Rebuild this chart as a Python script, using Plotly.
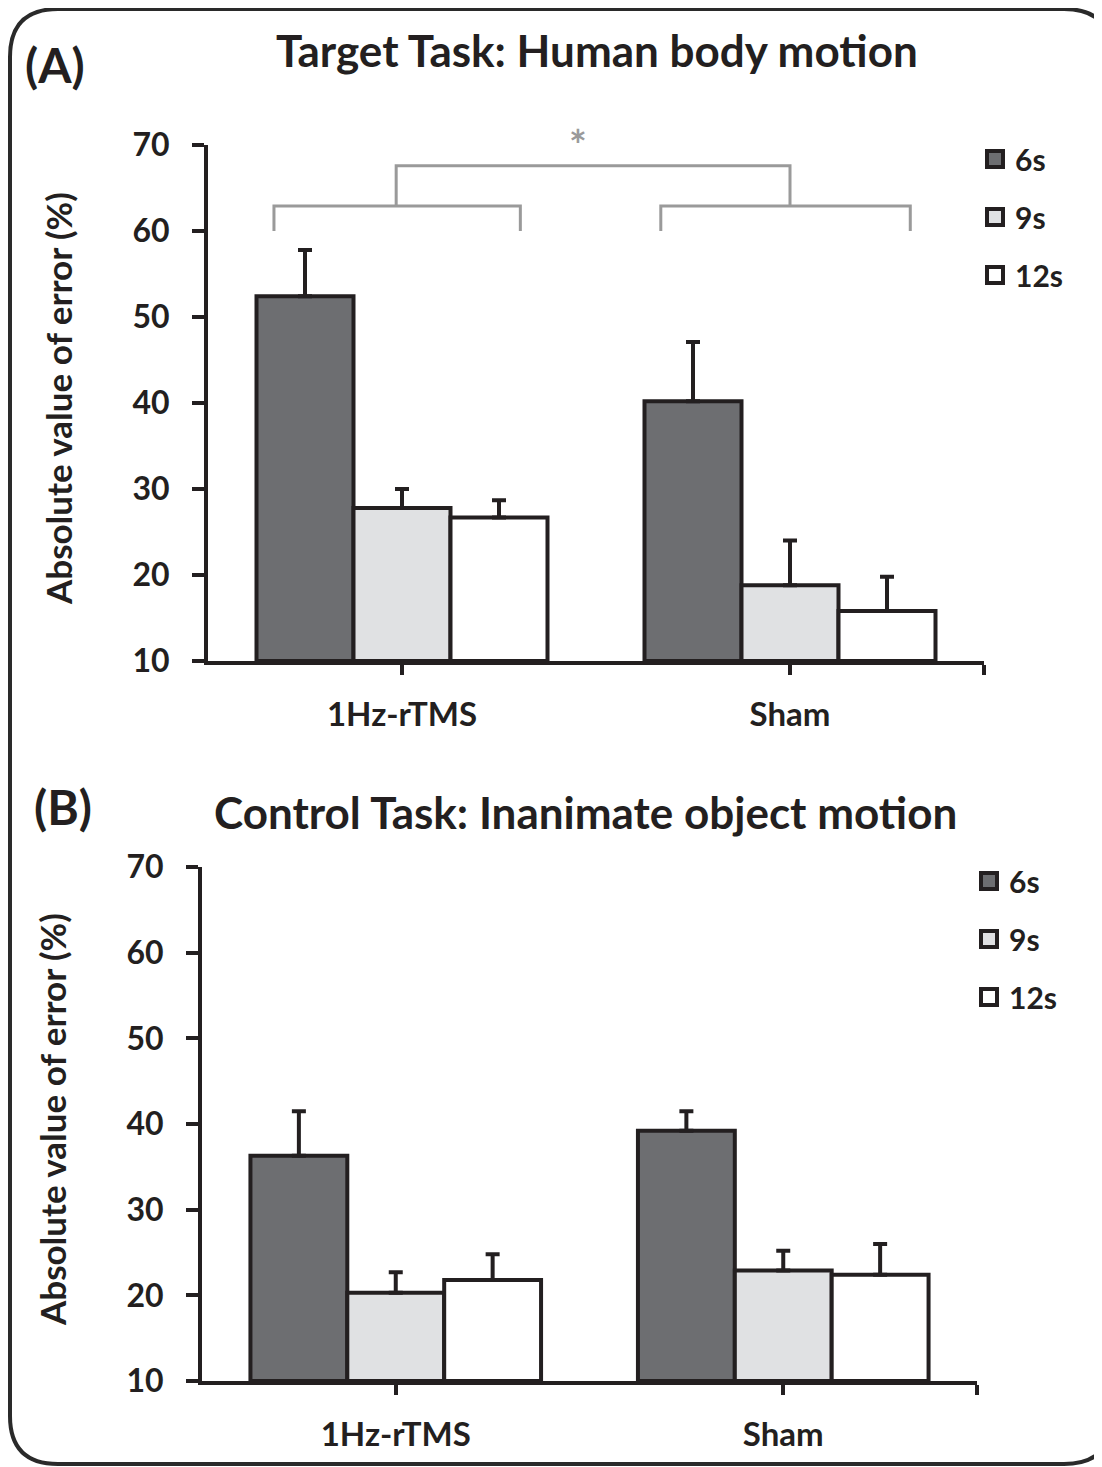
import plotly.graph_objects as go

W, H = 1102, 1467
OFF = 8  # page body margin that shifts the figure in the screenshot

# data
groups = ['1Hz-rTMS', 'Sham']
durations = ['6s', '9s', '12s']
colors = ['#6d6e71', '#e0e1e3', '#ffffff']

target_mean = {'6s': [52.4, 40.2], '9s': [27.8, 18.8], '12s': [26.7, 15.8]}
target_err = {'6s': [5.4, 6.9], '9s': [2.2, 5.2], '12s': [2.0, 4.0]}

control_mean = {'6s': [36.3, 39.2], '9s': [20.3, 22.9], '12s': [21.8, 22.4]}
control_err = {'6s': [5.2, 2.3], '9s': [2.4, 2.3], '12s': [3.0, 3.6]}

INK = '#231f20'
FONT = 'Lato'


def px_x(p):
    return (p - OFF) / W


def px_y(p):
    return 1 - (p - OFF) / H


fig = go.Figure()

x_pos = [0, 1]
for panel, (means, errs) in enumerate([(target_mean, target_err), (control_mean, control_err)]):
    xa = 'x' if panel == 0 else 'x2'
    ya = 'y' if panel == 0 else 'y2'
    for d, c in zip(durations, colors):
        fig.add_trace(go.Bar(
            x=x_pos, y=[m - 10 for m in means[d]], base=10,
            name=d, showlegend=False,
            marker=dict(color=c, line=dict(color=INK, width=4)),
            error_y=dict(type='data', symmetric=False, array=errs[d], arrayminus=[0, 0],
                         thickness=4, width=7, color=INK),
            xaxis=xa, yaxis=ya, offsetgroup=d
        ))
    # legend entries
    for d, c in zip(durations, colors):
        fig.add_trace(go.Scatter(
            x=[None], y=[None], mode='markers', name=d,
            marker=dict(symbol='square', size=16, color=c, line=dict(color=INK, width=4)),
            xaxis=xa, yaxis=ya, legend='legend' if panel == 0 else 'legend2',
            legendgroup=f'{panel}{d}'
        ))

axis_font = dict(family=FONT, size=32, color=INK, weight='bold')
common_y = dict(range=[10, 70], dtick=10, showline=True, linewidth=4, linecolor=INK,
                ticks='outside', ticklen=12, tickwidth=4, tickcolor=INK, showgrid=False,
                zeroline=False, tickfont=axis_font, ticklabelstandoff=16, automargin=False)
common_x = dict(range=[-0.5, 1.5], tickvals=[0, 1, 1.5], ticktext=groups + [''],
                showline=True, linewidth=4, linecolor=INK, ticks='outside', ticklen=10,
                tickwidth=4, tickcolor=INK, showgrid=False, zeroline=False,
                tickfont=dict(family=FONT, size=33, color=INK, weight='bold'),
                ticklabelstandoff=11, automargin=False)

legend_common = dict(font=dict(family=FONT, size=30, color=INK, weight='bold'),
                     bgcolor='rgba(0,0,0,0)', tracegroupgap=16, traceorder='grouped',
                     itemclick=False)

fig.update_layout(
    width=W, height=H,
    margin=dict(l=0, r=0, t=0, b=0, pad=0, autoexpand=False),
    paper_bgcolor='white', plot_bgcolor='white',
    barmode='group', bargap=0.25, bargroupgap=0,
    font=dict(family=FONT, color=INK),
    xaxis=dict(domain=[px_x(208), px_x(984)], anchor='y', **common_x),
    yaxis=dict(domain=[px_y(661), px_y(145)], anchor='x', **common_y),
    xaxis2=dict(domain=[px_x(202), px_x(977)], anchor='y2', **common_x),
    yaxis2=dict(domain=[px_y(1381), px_y(867)], anchor='x2', **common_y),
    legend=dict(x=px_x(975), y=px_y(133), xanchor='left', yanchor='top', **legend_common),
    legend2=dict(x=px_x(969), y=px_y(855), xanchor='left', yanchor='top', **legend_common),
)

# titles, panel letters, axis titles
texts = [
    ('Target Task: Human body motion', 597, 50, 0, 44),
    ('Control Task: Inanimate object motion', 585, 812, 0, 44),
    ('(A)', 55, 64, 0, 48),
    ('(B)', 63, 806, 0, 48),
    ('Absolute value of error (%)', 58, 399, -90, 35),
    ('Absolute value of error (%)', 52, 1120, -90, 35),
]
for t, x, y, ang, sz in texts:
    fig.add_annotation(text=f'<b>{t}</b>', x=px_x(x), y=px_y(y), xref='paper', yref='paper',
                       showarrow=False, textangle=ang, font=dict(family=FONT, size=sz, color=INK),
                       xanchor='center', yanchor='middle')

# significance bracket in panel A
GRAY = '#9a9a9a'
bracket_left = [-0.33, 0.305]
bracket_right = [0.667, 1.31]
y_low, y_mid, y_top = 60, 62.9, 67.6
for x0, x1 in (bracket_left, bracket_right):
    fig.add_shape(type='path', xref='x', yref='y',
                  path=f'M {x0} {y_low} L {x0} {y_mid} L {x1} {y_mid} L {x1} {y_low}',
                  line=dict(color=GRAY, width=3))
fig.add_shape(type='path', xref='x', yref='y',
              path=f'M -0.015 {y_mid} L -0.015 {y_top} L 1.0 {y_top} L 1.0 {y_mid}',
              line=dict(color=GRAY, width=3))
fig.add_annotation(text='<b>*</b>', x=0.454, y=1.0, xref='x', yref='y domain', showarrow=False,
                   yanchor='middle', font=dict(family=FONT, size=42, color=GRAY))

# rounded border
r = 48
L, T, R, B = 10, 9, 1112, 1464
path = (f'M {px_x(L + r)} {px_y(T)} L {px_x(R - r)} {px_y(T)} '
        f'Q {px_x(R)} {px_y(T)} {px_x(R)} {px_y(T + r)} '
        f'L {px_x(R)} {px_y(B - r)} Q {px_x(R)} {px_y(B)} {px_x(R - r)} {px_y(B)} '
        f'L {px_x(L + r)} {px_y(B)} Q {px_x(L)} {px_y(B)} {px_x(L)} {px_y(B - r)} '
        f'L {px_x(L)} {px_y(T + r)} Q {px_x(L)} {px_y(T)} {px_x(L + r)} {px_y(T)} Z')
fig.add_shape(type='path', xref='paper', yref='paper', path=path,
              line=dict(color='#2a2a2a', width=4), layer='below')

fig.write_html('out.html')
